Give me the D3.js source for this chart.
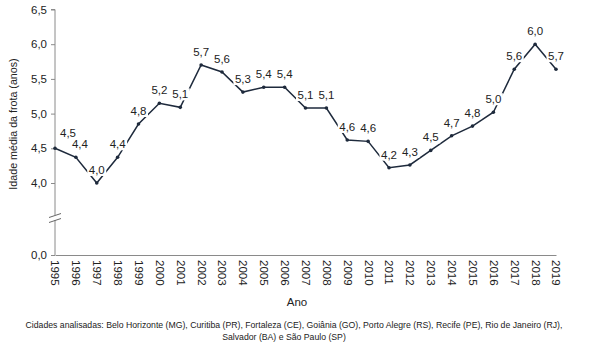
<!DOCTYPE html>
<html>
<head>
<meta charset="utf-8">
<script src="https://cdn.jsdelivr.net/npm/d3@7"></script>
<style>
  body { margin: 0; background: #fff; }
  text { font-family: "Liberation Sans", Arial, sans-serif; }
</style>
</head>
<body>
<script>
// valores
var anos = ["1995","1996","1997","1998","1999","2000","2001","2002","2003","2004","2005","2006",
            "2007","2008","2009","2010","2011","2012","2013","2014","2015","2016","2017","2018","2019"];
var idade = [4.5,4.37,4.0,4.37,4.85,5.15,5.09,5.7,5.6,5.31,5.38,5.38,
             5.08,5.08,4.62,4.6,4.22,4.26,4.47,4.68,4.82,5.02,5.64,6.0,5.64];
var rotulos = ["4,5","4,4","4,0","4,4","4,8","5,2","5,1","5,7","5,6","5,3","5,4","5,4",
               "5,1","5,1","4,6","4,6","4,2","4,3","4,5","4,7","4,8","5,0","5,6","6,0","5,7"];
var yTicks = [0, 4, 4.5, 5, 5.5, 6, 6.5];

var width = 591, height = 353;
var svg = d3.select("body").append("svg")
    .attr("width", width)
    .attr("height", height);

var x = d3.scalePoint()
    .domain(anos)
    .range([55, 556]);

// eixo quebrado entre 0 e 4
var y = d3.scaleLinear()
    .domain([0, 4, 6.5])
    .range([255, 183, 9.5]);

var fmt = function(d){ return d3.format(".1f")(d).replace(".", ","); };

var yAxis = svg.append("g")
    .attr("transform", "translate(55,0)")
    .call(d3.axisLeft(y).tickValues(yTicks).tickFormat(fmt).tickSize(4).tickPadding(4));
yAxis.select(".domain").attr("stroke", "#8a8a8a").attr("d", "M-4,9.5H0V255");
yAxis.selectAll(".tick line").attr("stroke", "#8a8a8a");
yAxis.selectAll(".tick text").attr("font-size", "11.5px").attr("fill", "#222")
    .attr("font-family", "Liberation Sans, Arial, sans-serif");

// marca de quebra
var by = 218;
svg.append("rect").attr("x", 50).attr("y", by - 3).attr("width", 10).attr("height", 5).attr("fill", "#fff");
[-2.5, 2.5].forEach(function(o){
  svg.append("line")
    .attr("x1", 49).attr("y1", by + o + 2)
    .attr("x2", 61).attr("y2", by + o - 2)
    .attr("stroke", "#666").attr("stroke-width", 1);
});

var xAxis = svg.append("g")
    .attr("transform", "translate(0,255)")
    .call(d3.axisBottom(x).tickSize(0).tickPadding(5));
xAxis.select(".domain").attr("stroke", "#8a8a8a");
xAxis.selectAll(".tick text")
    .attr("font-size", "11.5px").attr("fill", "#222")
    .attr("font-family", "Liberation Sans, Arial, sans-serif")
    .attr("text-anchor", "start")
    .attr("transform", "rotate(90)")
    .attr("x", 5).attr("y", 0).attr("dy", "0.35em");

var line = d3.line()
    .x(function(d, i){ return x(anos[i]); })
    .y(function(d){ return y(d); });

svg.append("path")
    .datum(idade)
    .attr("d", line)
    .attr("fill", "none")
    .attr("stroke", "#1e2a3c")
    .attr("stroke-width", 1.5);

svg.selectAll("circle.pt")
    .data(idade)
    .enter().append("circle")
    .attr("class", "pt")
    .attr("cx", function(d, i){ return x(anos[i]); })
    .attr("cy", function(d){ return y(d); })
    .attr("r", 1.8)
    .attr("fill", "#1e2a3c");

// rótulos com fundo branco
var lab = svg.selectAll("g.lab")
    .data(idade)
    .enter().append("g")
    .attr("class", "lab")
    .attr("transform", function(d, i){
      var dx = i === 0 ? 13 : (i === 1 ? 4 : 0);
      var dy = i === 0 ? -15 : -13;
      return "translate(" + (x(anos[i]) + dx) + "," + (y(d) + dy) + ")";
    });
lab.append("rect")
    .attr("x", -9.5).attr("y", -6).attr("width", 19).attr("height", 12)
    .attr("fill", "#fff");
lab.append("text")
    .attr("text-anchor", "middle")
    .attr("dy", "0.35em")
    .attr("font-size", "11.5px")
    .attr("fill", "#222")
    .text(function(d, i){ return rotulos[i]; });

svg.append("text")
    .attr("transform", "translate(17,124)rotate(-90)")
    .attr("text-anchor", "middle")
    .attr("font-size", "10.7px")
    .attr("fill", "#222")
    .text("Idade média da frota (anos)");

svg.append("text")
    .attr("x", 297).attr("y", 306)
    .attr("text-anchor", "middle")
    .attr("font-size", "11.5px")
    .attr("fill", "#222")
    .text("Ano");

svg.append("text")
    .attr("x", 294).attr("y", 328)
    .attr("text-anchor", "middle")
    .attr("font-size", "8.7px")
    .attr("fill", "#222")
    .text("Cidades analisadas: Belo Horizonte (MG), Curitiba (PR), Fortaleza (CE), Goiânia (GO), Porto Alegre (RS), Recife (PE), Rio de Janeiro (RJ),");

svg.append("text")
    .attr("x", 284).attr("y", 340)
    .attr("text-anchor", "middle")
    .attr("font-size", "8.7px")
    .attr("fill", "#222")
    .text("Salvador (BA) e São Paulo (SP)");
</script>
</body>
</html>
